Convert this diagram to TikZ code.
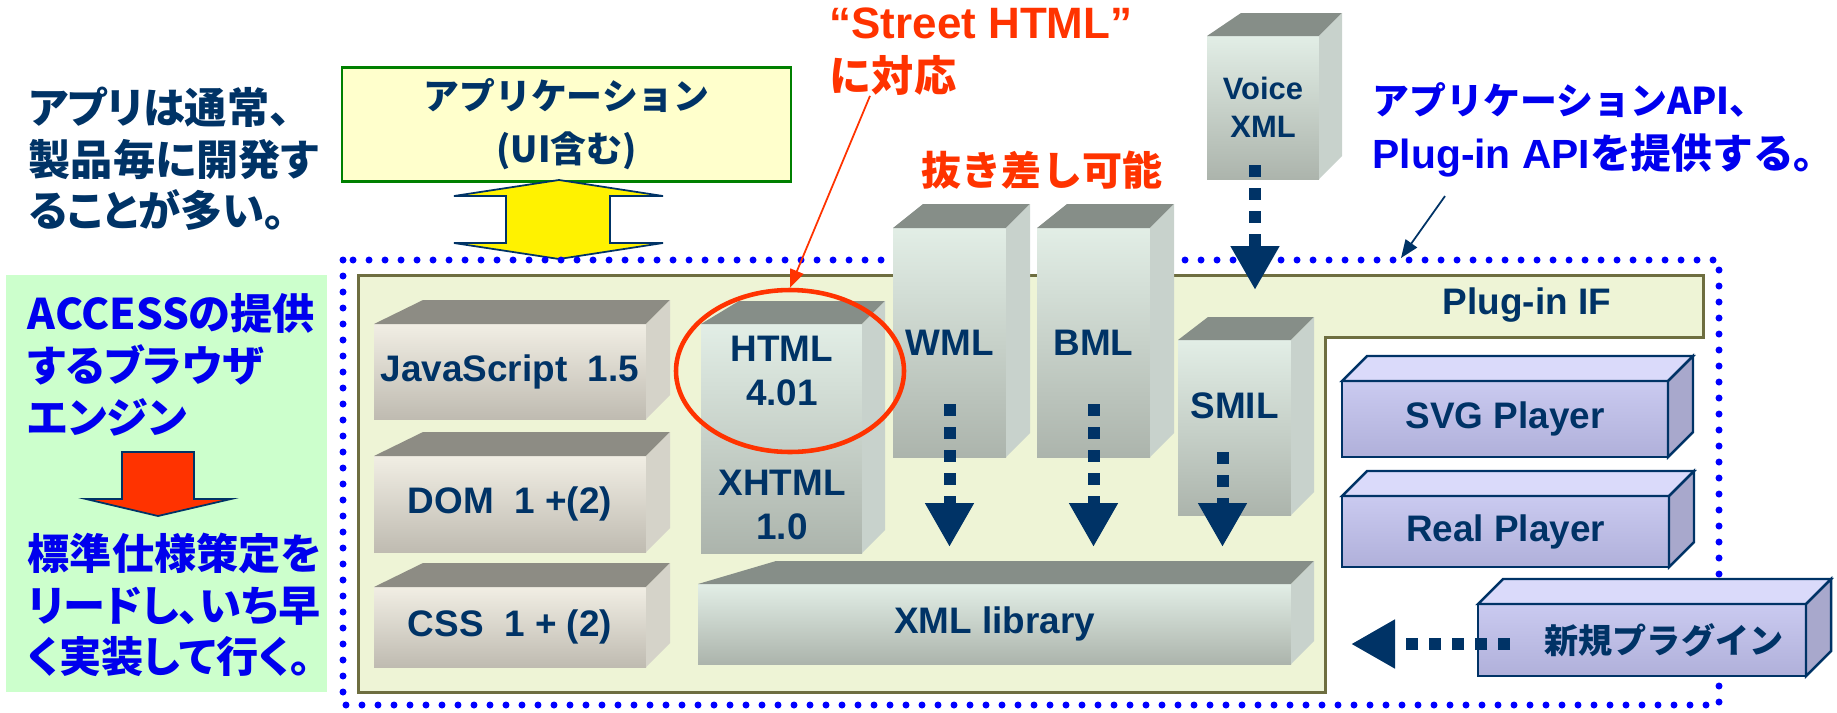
\documentclass[tikz,border=0pt]{standalone}
\usepackage{fontspec}
\setmainfont{Liberation Sans}
\newfontfamily\jp{Noto Sans CJK JP}
\newfontfamily\jpprop{Noto Sans CJK JP}[RawFeature=+palt]
\usetikzlibrary{arrows.meta, positioning, calc, shapes.geometric}

\definecolor{navy}{HTML}{003366}
\definecolor{hotred}{HTML}{FF3300}
\definecolor{textblue}{HTML}{0000EE}
\definecolor{dotblue}{HTML}{0000FF}
\definecolor{mint}{HTML}{CCFFCC}
\definecolor{cream}{HTML}{FFFFCC}
\definecolor{appgreen}{HTML}{008000}
\definecolor{panelfill}{HTML}{EEF4D6}
\definecolor{olive}{HTML}{6E6E40}
\definecolor{tealhi}{HTML}{E2EEE6}
\definecolor{teallo}{HTML}{ACB4AC}
\definecolor{tealside}{HTML}{C8D2CC}
\definecolor{tealtop}{HTML}{868E88}
\definecolor{sandhi}{HTML}{F1EEE4}
\definecolor{sandlo}{HTML}{BFBBB1}
\definecolor{sandside}{HTML}{D5D3C9}
\definecolor{sandtop}{HTML}{8D8C84}
\definecolor{lilachi}{HTML}{CACAF0}
\definecolor{lilaclo}{HTML}{B0B0DA}
\definecolor{lilacside}{HTML}{A8A8CC}
\definecolor{lilactop}{HTML}{DADAFA}

% top and side face of a block: node, back shift of left edge, depth, colour stem
\newcommand{\blockfaces}[5][]{%
  \fill[#5top,#1] (#2.north west) -- ++(#3,-#4) -- ([shift={(#4,-#4)}]#2.north east) -- (#2.north east) -- cycle;
  \fill[#5side,#1] (#2.north east) -- ++(#4,-#4) -- ([shift={(#4,-#4)}]#2.south east) -- (#2.south east) -- cycle;}

\tikzset{
  blocktext/.style={text=navy, font=\bfseries\fontsize{10.5}{12.5}\selectfont, align=center, inner sep=0pt},
  face/.style={blocktext, anchor=north west, outer sep=0pt},
  sandbox/.style={face, top color=sandhi, bottom color=sandlo},
  tealbox/.style={face, top color=tealhi, bottom color=teallo},
  lilacbox/.style={face, top color=lilachi, bottom color=lilaclo, draw=navy, line width=0.7pt},
  jpnote/.style={font=\jpprop\bfseries\fontsize{12}{14.7}\selectfont, align=left, inner sep=0pt, anchor=west},
  appbox/.style={draw=appgreen, fill=cream, line width=0.27mm, minimum width=44.9mm, minimum height=11.3mm,
    font=\jp\bfseries\fontsize{10.2}{15}\selectfont, text=navy, align=center},
  dotline/.style={dotblue, line width=0.7mm, dash pattern=on 0pt off 1.6mm, line cap=round},
  panel/.style={fill=panelfill, draw=olive, line width=0.3mm},
  dasharrow/.style={navy, line width=1.2mm, dash pattern=on 1.2mm off 1.1mm, -{Triangle[length=4.4mm, width=4.6mm]}},
  thinarrow/.style={line width=0.5pt, -{Triangle[length=1.8mm, width=1.4mm]}},
  ring/.style={draw=hotred, line width=1.3pt, ellipse, minimum width=22.8mm, minimum height=16.2mm, inner sep=0pt}
}

\begin{document}
\begin{tikzpicture}[x=0.1mm, y=-0.1mm]
\useasboundingbox (0,0) rectangle (1837,712);

\node[jpnote, text=navy] (habit) at (28,159) {アプリは通常、\\製品毎に開発す\\ることが多い。};
\fill[mint] (6,275) rectangle (327,692);
\node[jpnote, text=textblue] (engine) at (27,365) {ACCESSの提供\\するブラウザ\\エンジン};
\node[jpnote, text=textblue] (lead) at (27,605) {標準仕様策定を\\リードし、いち早\\く実装して行く。};
\draw[fill=hotred, draw=navy, line width=0.5pt, shift={(158,452)}] (-36,0) -- (36,0) -- (36,47) -- (73,47) -- (0,64) -- (-72,47) -- (-36,47) -- cycle;

\node[appbox] (app) at (566.5,124.5) {アプリケーション\\(UI含む)};
\draw[fill=yellow, draw=navy, line width=0.5pt, shift={(559,180)}] (0,0) -- (104,16) -- (51,16) -- (51,63) -- (104,63) -- (0,79) -- (-105,63) -- (-53,63) -- (-53,16) -- (-105,16) -- cycle;

% frame and plug-in panel
\draw[dotline] (343,260) rectangle (1719,705);
\coordinate (plugtop) at (358,275);
\coordinate (plugnotch) at (1325,337);
\draw[panel] (plugtop) -- (1703,275) -- (1703,337) -- (plugnotch) -- (1325,692) -- (358,692) -- cycle;
\node[blocktext] (plugif) at (1527,305) {Plug-in IF};

% blocks
\node[sandbox, minimum width=27.2mm, minimum height=9.5mm] (js) at (374,324) {JavaScript\ \ 1.5};
\blockfaces{js}{49}{24}{sand}
\node[sandbox, minimum width=27.2mm, minimum height=9.6mm] (dom) at (374,456) {DOM\ \ 1 +(2)};
\blockfaces{dom}{49}{24}{sand}
\node[sandbox, minimum width=27.2mm, minimum height=8mm] (css) at (374,587) {CSS\ \ 1 + (2)};
\blockfaces{css}{49}{24}{sand}

\node[tealbox, minimum width=16.1mm, minimum height=22.9mm] (html) at (701,324) {};
\blockfaces{html}{38}{23}{teal}
\node[blocktext] (htmltag) at (782,371) {HTML\\4.01};
\node[blocktext] (xhtmltag) at (782,505) {XHTML\\1.0};
\node[tealbox, minimum width=59.3mm, minimum height=8mm] (xml) at (698,584) {XML library};
\blockfaces{xml}{78}{23}{teal}
\node[tealbox, minimum width=11.3mm, minimum height=22.9mm] (wml) at (893,228) {WML};
\blockfaces{wml}{30}{24}{teal}
\node[tealbox, minimum width=11.3mm, minimum height=22.9mm] (bml) at (1037,228) {BML};
\blockfaces{bml}{30}{24}{teal}
\node[tealbox, minimum width=11.3mm, minimum height=17.5mm] (smil) at (1178,340) {};
\blockfaces{smil}{30}{23}{teal}
\node[blocktext] (smiltag) at ([yshift=2.2mm]smil.center) {SMIL};
\node[tealbox, minimum width=11.2mm, minimum height=14.3mm, font=\bfseries\fontsize{8.8}{10.8}\selectfont] (voice) at (1207,36) {Voice\\XML};
\blockfaces{voice}{34}{23}{teal}

\node[lilacbox, minimum width=32.6mm, minimum height=7.6mm] (svg) at (1342,381) {SVG Player};
\blockfaces[draw=navy, line width=0.7pt]{svg}{25}{25}{lilac}
\node[lilacbox, minimum width=32.7mm, minimum height=7.1mm] (real) at (1342,496) {Real Player};
\blockfaces[draw=navy, line width=0.7pt]{real}{25}{25}{lilac}
\node[lilacbox, minimum width=32.8mm, minimum height=7.2mm] (newplug) at (1478,604) {};
\blockfaces[draw=navy, line width=0.7pt]{newplug}{25}{25}{lilac}
\node[blocktext, font=\jp\bfseries\fontsize{9.7}{12}\selectfont] (newtag) at ([xshift=2.2mm]newplug.center) {新規プラグイン};

% dotted arrows
\coordinate (xmlin) at ([yshift=3.7mm]xml.north);
\draw[dasharrow] ([yshift=5.3mm]wml.south) -- (xmlin -| wml.south);
\draw[dasharrow] ([yshift=5.3mm]bml.south) -- (xmlin -| bml.south);
\coordinate (smilout) at ([xshift=-1.2mm,yshift=6.3mm]smil.south);
\draw[dasharrow] (smilout) -- (xmlin -| smilout);
\coordinate (voiceout) at ([xshift=-0.8mm,yshift=1.4mm]voice.south);
\draw[dasharrow] (voiceout) -- ($(voiceout |- plugtop)+(0,15)$);
\coordinate (plugout) at ([xshift=3.2mm,yshift=-0.4mm]newplug.west);
\draw[dasharrow] (plugout) -- ($(plugout -| plugnotch)+(26,0)$);

% notes
\node[ring] (ring) at (790,371) {};
\node[anchor=west, text=hotred, font=\bfseries\fontsize{12.5}{15}\selectfont, align=left, inner sep=0pt] (street) at (829,51.5) {“Street HTML”\\{\jp\fontsize{12}{15}\selectfont に対応}};
\draw[hotred, thinarrow] ([xshift=4.1mm]street.south west) -- (ring.north);
\node[text=hotred, font=\jp\bfseries\fontsize{11.4}{14}\selectfont, inner sep=0pt] (swap) at (1042,170) {抜き差し可能};
\node[jpnote, text=textblue, font=\jp\bfseries\fontsize{10.5}{15.4}\selectfont] (api) at (1372,130) {アプリケーションAPI、\\{\fontsize{11.6}{15.4}\selectfont{\rmfamily Plug-in API}を提供する。}};
\coordinate (apihit) at (1401,258);
\draw[navy, thinarrow] ([xshift=7.3mm,yshift=-1.8mm]api.south west) -- (apihit);
\end{tikzpicture}
\end{document}
